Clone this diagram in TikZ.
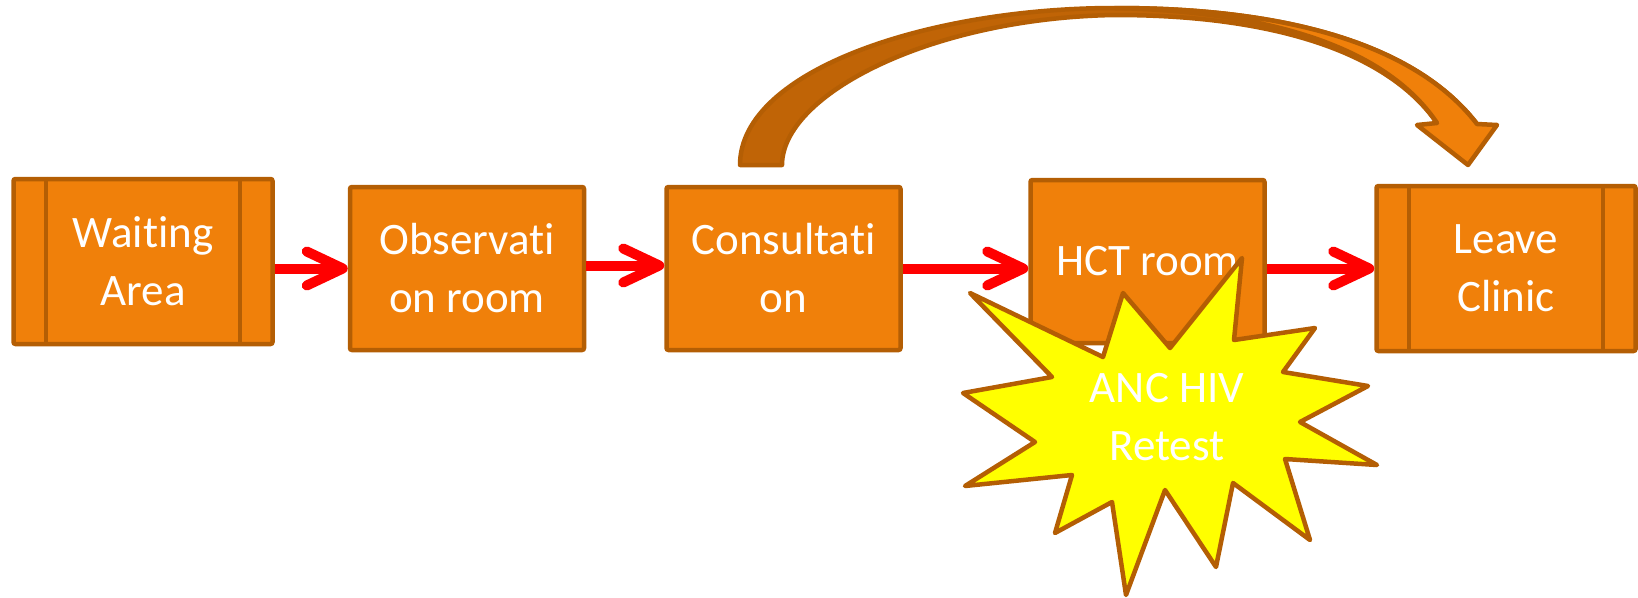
\documentclass[tikz,border=0pt]{standalone}
\usepackage{fontspec}
\setmainfont{Carlito}[Ligatures={NoCommon,NoContextual}, RawFeature={-liga;-clig;-calt}]
\usetikzlibrary{arrows.meta,calc}

\definecolor{boxfill}{RGB}{240,128,10}
\definecolor{boxline}{RGB}{180,94,4}
\definecolor{backface}{RGB}{192,100,6}
\definecolor{flowred}{RGB}{255,0,0}
\definecolor{burst}{RGB}{255,255,0}

% keeps "t" and "i" as separate glyphs
\newcommand{\tisplit}{t\kern0pt i}

\tikzset{
  roomtext/.style={font=\fontsize{45}{58}\selectfont, text=white, align=center},
  room/.style={roomtext, draw=boxline, fill=boxfill, line width=4.5pt,
    rounded corners=2pt, minimum width=234pt, minimum height=163pt, inner sep=0pt},
  widebox/.style={room, minimum width=259pt, minimum height=165pt},
  sideline/.style={draw=boxline, line width=4.5pt},
  flow/.style={draw=flowred, line width=10pt,
    -{Straight Barb[length=36pt,width=34pt,round]}},
  blockarrow/.style={draw=boxline, line width=4.5pt, line join=round},
}

\begin{document}
\begin{tikzpicture}[x=1pt,y=-1pt]
\useasboundingbox (0,0) rectangle (1638,597);

% rooms along the patient flow
\node[widebox] (wait)  at (143,261.5)  {Wai\tisplit ng\\Area};
\node[room]    (obs)   at (467,268.5)  {Observa\tisplit\\on room};
\node[room]    (cons)  at (783.5,268.5) {Consulta\tisplit\\on};
\node[room]    (hct)   at (1147.5,261.5) {HCT room};
\node[widebox] (leave) at (1506,268.5) {Leave\\Clinic};

% side panels of the terminal boxes
\foreach \b in {wait,leave}{
  \draw[sideline] ([xshift=-97pt]\b.north) -- ([xshift=-97pt]\b.south);
  \draw[sideline] ([xshift=97pt]\b.north) -- ([xshift=97pt]\b.south);
}

% red flow arrows
\draw[flow] (wait.east |- obs.west) -- (obs.west);
\draw[flow] ([yshift=3pt]obs.east) -- ([yshift=3pt]cons.west);
\draw[flow] (cons.east) -- (cons.east -| hct.west);
\draw[flow] (hct.east |- leave.west) -- (leave.west);

% curved block arrow from consultation to leaving the clinic:
% darker back face first, then the front face with the head
\filldraw[blockarrow, fill=backface]
  (740,165) .. controls (740,70) and (930,8) .. (1115,8)
  .. controls (1300,8) and (1420,50) .. (1477,124)
  -- (1437,123) .. controls (1390,55) and (1280,15) .. (1115,15)
  .. controls (930,18) and (782,95) .. (782,165) -- cycle;
\filldraw[blockarrow, fill=boxfill]
  (1115,8) .. controls (1300,8) and (1420,50) .. (1477,124)
  -- (1497,125) -- (1468,165) -- (1417,125) -- (1437,123)
  .. controls (1392,56) and (1290,12) .. (1115,8) -- cycle;

% retest starburst over the HCT room
\filldraw[fill=burst, draw=boxline, line width=4.5pt, line join=round]
  (970,293) -- (1103,357) -- (1123,293) -- (1170,348) -- (1242,258)
  -- (1234,340) -- (1315,328) -- (1283,372) -- (1368,386) -- (1300,422)
  -- (1377,465) -- (1285,459) -- (1310,540) -- (1233,483) -- (1216,567)
  -- (1165,490) -- (1126,595) -- (1112,502) -- (1055,533) -- (1072,475)
  -- (965,486) -- (1035,442) -- (963,393) -- (1052,377) -- cycle;
\node[roomtext] (retest) at (1167,417.5) {ANC HIV\\Retest};

\end{tikzpicture}
\end{document}
